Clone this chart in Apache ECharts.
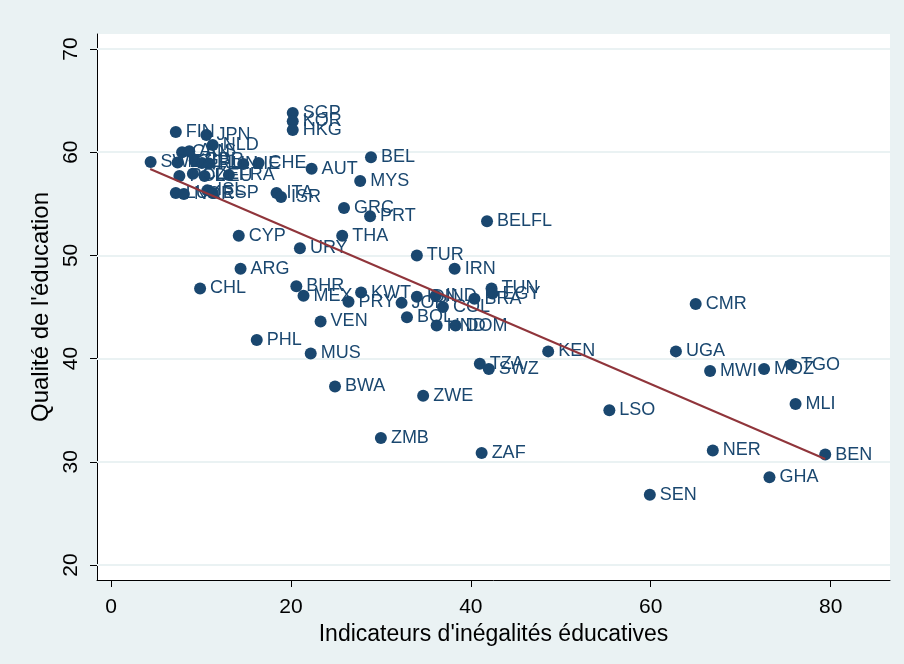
<!DOCTYPE html>
<html>
<head>
<meta charset="utf-8">
<script src="https://cdn.jsdelivr.net/npm/echarts@6/dist/echarts.min.js"></script>
<style>
  html, body { margin: 0; padding: 0; background: #EAF2F3; }
  #main { width: 904px; height: 664px; }
</style>
</head>
<body>
<div id="main"></div>
<script>
// country codes + values
var countries = ['SWE', 'FIN', 'JPN', 'NLD', 'CAN', 'AUS', 'NZL', 'GBR', 'IRL', 'HUN', 'LIE', 'CHE',
  'POL', 'CZE', 'DEU', 'FRA', 'LUX', 'NOR', 'ISL', 'ESP', 'SGP', 'KOR', 'HKG', 'AUT', 'ITA', 'ISR',
  'BEL', 'MYS', 'GRC', 'PRT', 'BELFL', 'CYP', 'URY', 'THA', 'TUR', 'IRN', 'ARG', 'CHL', 'BHR', 'MEX',
  'KWT', 'PRY', 'JOR', 'IDN', 'IND', 'COL', 'BRA', 'TUN', 'EGY', 'BOL', 'HND', 'DOM', 'VEN', 'PHL',
  'MUS', 'KEN', 'TZA', 'SWZ', 'BWA', 'ZWE', 'ZMB', 'ZAF', 'LSO', 'SEN', 'CMR', 'UGA', 'MWI', 'MOZ',
  'TGO', 'MLI', 'NER', 'GHA', 'BEN'];
var inegalite = [4.4, 7.2, 10.6, 11.3, 7.9, 8.7, 7.4, 9.3, 10.1, 10.9, 14.7, 16.4,
  7.6, 9.1, 10.4, 13.1, 7.2, 8.1, 10.7, 11.3, 20.2, 20.2, 20.2, 22.3, 18.4, 18.9,
  28.9, 27.7, 25.9, 28.8, 41.8, 14.2, 21.0, 25.7, 34.0, 38.2, 14.4, 9.9, 20.6, 21.4,
  27.8, 26.4, 32.3, 34.0, 36.1, 36.9, 40.4, 42.3, 42.4, 32.9, 36.2, 38.3, 23.3, 16.2,
  22.2, 48.6, 41.0, 42.0, 24.9, 34.7, 30.0, 41.2, 55.4, 59.9, 65.0, 62.8, 66.6, 72.6,
  75.6, 76.1, 66.9, 73.2, 79.4];
var qualite = [59.05, 61.96, 61.67, 60.7, 60.0, 60.1, 59.0, 59.2, 58.95, 58.9, 58.85, 58.95,
  57.7, 57.9, 57.7, 57.8, 56.05, 55.95, 56.3, 56.05, 63.8, 63.0, 62.15, 58.4, 56.05, 55.66,
  59.5, 57.2, 54.6, 53.8, 53.3, 51.9, 50.7, 51.9, 50.0, 48.7, 48.7, 46.8, 47.0, 46.1,
  46.4, 45.5, 45.4, 46.0, 46.1, 45.0, 45.8, 46.8, 46.3, 44.0, 43.2, 43.2, 43.6, 41.8,
  40.5, 40.7, 39.5, 39.0, 37.3, 36.4, 32.3, 30.85, 35.0, 26.8, 45.3, 40.7, 38.8, 39.0,
  39.4, 35.6, 31.1, 28.5, 30.7];

// fitted line end points (lfit)
var fitX = [4.35, 79.4];
var fitY = [58.37, 30.27];

var xTicks = [0, 20, 40, 60, 80];
var yTicks = [20, 30, 40, 50, 60, 70];

var navy = '#1A476F';
var maroon = '#90353B';
var font = '"Liberation Sans", Arial, sans-serif';

var points = countries.map(function (c, i) {
  return { name: c, value: [inegalite[i], qualite[i]] };
});

var chart = echarts.init(document.getElementById('main'), null, { renderer: 'canvas' });

var option = {
  backgroundColor: '#EAF2F3',
  animation: false,
  grid: {
    left: 97, right: 14, top: 34, bottom: 84,
    show: true, backgroundColor: '#ffffff', borderWidth: 0
  },
  xAxis: {
    type: 'value',
    min: -1.56, max: 86.6,
    name: "Indicateurs d'inégalités éducatives",
    nameLocation: 'middle',
    nameGap: 40,
    nameTextStyle: { color: '#000', fontSize: 23, fontFamily: font },
    axisLine: { show: true, onZero: false, lineStyle: { color: '#000', width: 1 } },
    axisTick: { show: true, length: 7, customValues: xTicks, lineStyle: { color: '#000' } },
    axisLabel: { customValues: xTicks, color: '#000', fontSize: 21, fontFamily: font, margin: 17 },
    splitLine: { show: false }
  },
  yAxis: {
    type: 'value',
    min: 18.55, max: 71.45,
    name: "Qualité de l'éducation",
    nameLocation: 'middle',
    nameGap: 30,
    nameTextStyle: { color: '#000', fontSize: 24, fontFamily: font },
    axisLine: { show: true, onZero: false, lineStyle: { color: '#000', width: 1 } },
    axisTick: { show: true, length: 7, customValues: yTicks, lineStyle: { color: '#000' } },
    axisLabel: { customValues: yTicks, color: '#000', fontSize: 21, fontFamily: font, margin: 15, rotate: 90 },
    splitLine: { show: false }
  },
  series: [
    {
      // horizontal grid lines
      type: 'scatter',
      data: [],
      z: 1,
      silent: true,
      markLine: {
        z: 1,
        silent: true,
        symbol: ['none', 'none'],
        label: { show: false },
        lineStyle: { color: '#EAF2F3', width: 2, type: 'solid' },
        data: yTicks.map(function (v) { return { yAxis: v }; })
      }
    },
    {
      type: 'scatter',
      data: points,
      z: 3,
      symbol: 'circle',
      symbolSize: 12,
      itemStyle: { color: navy, opacity: 1 },
      label: {
        show: true,
        position: 'right',
        distance: 4,
        formatter: '{b}',
        color: navy,
        fontSize: 18,
        fontFamily: font
      }
    },
    {
      type: 'line',
      data: [[fitX[0], fitY[0]], [fitX[1], fitY[1]]],
      z: 4,
      symbol: 'none',
      lineStyle: { color: maroon, width: 2 }
    }
  ]
};

chart.setOption(option);
</script>
</body>
</html>
